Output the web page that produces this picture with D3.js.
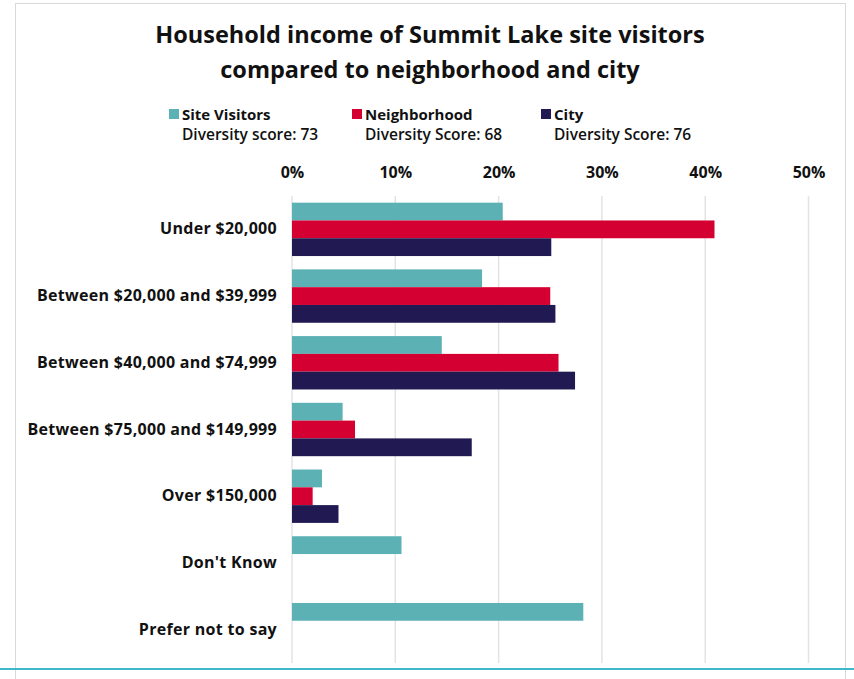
<!DOCTYPE html>
<html>
<head>
<meta charset="utf-8">
<script src="https://cdn.jsdelivr.net/npm/d3@7"></script>
<style>
  body { margin: 0; background: #fff; }
  svg text { font-family: "Open Sans", sans-serif; fill: #111; }
</style>
</head>
<body>
<svg id="chart"></svg>
<script>
const categories = [
  "Under $20,000",
  "Between $20,000 and $39,999",
  "Between $40,000 and $74,999",
  "Between $75,000 and $149,999",
  "Over $150,000",
  "Don't Know",
  "Prefer not to say"
];
const seriesNames = ["Site Visitors", "Neighborhood", "City"];
const seriesScores = ["Diversity score: 73", "Diversity Score: 68", "Diversity Score: 76"];
const seriesColors = ["#5bb1b4", "#d50032", "#211a52"];

const siteVisitors = [20.4, 18.4, 14.5, 4.9, 2.9, 10.6, 28.2];
const neighborhood = [40.9, 25.0, 25.8, 6.1, 2.0, null, null];
const city = [25.1, 25.5, 27.4, 17.4, 4.5, null, null];

const xTicks = [0, 10, 20, 30, 40, 50];

const width = 854;
const height = 679;

const svg = d3.select("#chart")
  .attr("width", width)
  .attr("height", height);

// frame
svg.append("rect")
  .attr("x", 15.5).attr("y", 3.5)
  .attr("width", 830).attr("height", 690)
  .attr("fill", "none")
  .attr("stroke", "#d9d9d9");

svg.append("line")
  .attr("x1", 0).attr("x2", width)
  .attr("y1", 669).attr("y2", 669)
  .attr("stroke", "#3fb8c9")
  .attr("stroke-width", 2);

// title
const title = svg.append("text")
  .attr("x", 430)
  .attr("y", 43)
  .attr("text-anchor", "middle")
  .style("font-size", "23.5px")
  .style("font-weight", "bold");
title.append("tspan").attr("x", 430).text("Household income of Summit Lake site visitors");
title.append("tspan").attr("x", 430).attr("dy", 35).text("compared to neighborhood and city");

// legend
const legendX = [169, 352, 541];
seriesNames.forEach((name, i) => {
  const g = svg.append("g").attr("transform", `translate(${legendX[i]},0)`);
  g.append("rect")
    .attr("x", 0).attr("y", 109)
    .attr("width", 10).attr("height", 10)
    .attr("fill", seriesColors[i]);
  g.append("text")
    .attr("x", 13).attr("y", 119.5)
    .style("font-size", "15px")
    .style("font-weight", "bold")
    .text(name);
  g.append("text")
    .attr("x", 13).attr("y", 139.5)
    .style("font-size", "15.5px")
    .style("font-weight", "600")
    .text(seriesScores[i]);
});

// scales
const xScale = d3.scaleLinear()
  .domain([0, 50])
  .range([292, 808.5]);

const yScale = d3.scaleBand()
  .domain(categories)
  .range([196, 663])
  .paddingInner(0.2)
  .paddingOuter(0.1);

const ySub = d3.scaleBand()
  .domain(seriesNames)
  .range([0, yScale.bandwidth()]);

// gridlines
svg.append("g")
  .selectAll("line")
  .data(xTicks)
  .enter()
  .append("line")
  .attr("x1", d => xScale(d)).attr("x2", d => xScale(d))
  .attr("y1", 196).attr("y2", 663)
  .attr("stroke", "#e3e3e3")
  .attr("stroke-width", 1.5);

// x axis labels
const xAxis = svg.append("g")
  .attr("transform", "translate(0,178)")
  .call(d3.axisTop(xScale).tickValues(xTicks).tickFormat(d => d + "%").tickSize(0).tickPadding(0));
xAxis.select(".domain").remove();
xAxis.selectAll("text")
  .style("font-family", "'Open Sans', sans-serif")
  .style("font-size", "16px")
  .style("font-weight", "bold")
  .attr("fill", "#111");

// y axis labels
const yAxis = svg.append("g")
  .attr("transform", "translate(277,0)")
  .call(d3.axisLeft(yScale).tickSize(0).tickPadding(0));
yAxis.select(".domain").remove();
yAxis.selectAll("text")
  .style("font-family", "'Open Sans', sans-serif")
  .style("font-size", "16px")
  .style("font-weight", "bold")
  .style("letter-spacing", "0.3px")
  .attr("fill", "#111");

// bars
const allSeries = [siteVisitors, neighborhood, city];
const barData = [];
categories.forEach((c, ci) => {
  allSeries.forEach((vals, si) => {
    if (vals[ci] != null) {
      barData.push({ category: c, series: seriesNames[si], value: vals[ci], color: seriesColors[si] });
    }
  });
});

svg.append("g")
  .selectAll(".bar")
  .data(barData)
  .enter()
  .append("rect")
  .attr("class", "bar")
  .attr("x", xScale(0))
  .attr("y", d => yScale(d.category) + ySub(d.series))
  .attr("width", d => xScale(d.value) - xScale(0))
  .attr("height", ySub.bandwidth())
  .attr("fill", d => d.color);
</script>
</body>
</html>
